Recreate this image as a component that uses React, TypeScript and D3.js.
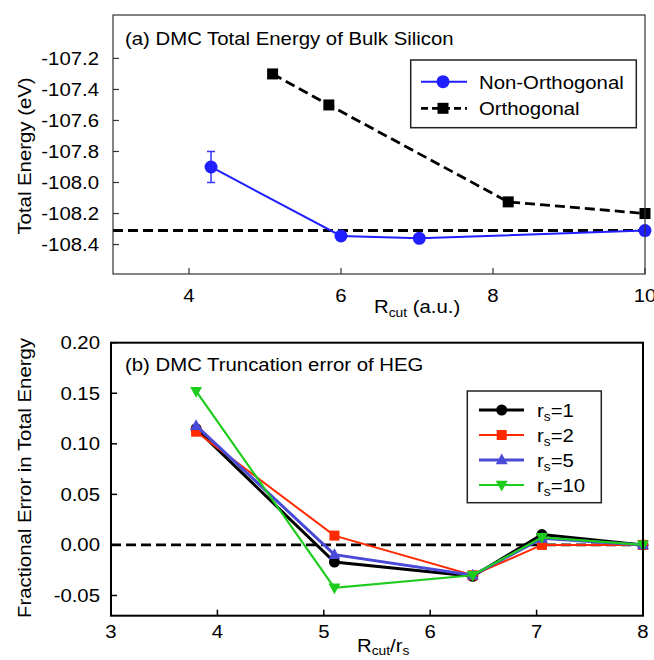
import React from "react";
import * as d3 from "d3";

// ---- Panel (a) data ----
const nonOrthX = [4.29, 6.0, 7.03, 10.0];
const nonOrthY = [-107.9, -108.345, -108.36, -108.31];
const nonOrthErr = [0.1, 0, 0, 0];
const orthX = [5.1, 5.84, 8.2, 10.0];
const orthY = [-107.3, -107.5, -108.125, -108.2];
const refEnergy = -108.31;
const aXTicks = [4, 6, 8, 10];
const aYTicks = [-107.2, -107.4, -107.6, -107.8, -108.0, -108.2, -108.4];

// ---- Panel (b) data ----
const bX = [3.8, 5.1, 6.4, 7.05, 8.0];
const rs1 = [0.115, -0.017, -0.031, 0.0102, 0.0];
const rs2 = [0.112, 0.0092, -0.03, 0.0, 0.0];
const rs5 = [0.118, -0.0096, -0.03, 0.0065, 0.0];
const rs10 = [0.152, -0.0425, -0.03, 0.0075, 0.0];
const bXTicks = [3, 4, 5, 6, 7, 8];
const bYTicks = [0.2, 0.15, 0.1, 0.05, 0.0, -0.05];

const FONT = "'Liberation Sans', Arial, Helvetica, sans-serif";
const FS = 18.5;
const SX = 1.1;

function T(props: { x: number; y: number; anchor?: string; rotate?: boolean; children: any }) {
  const { x, y, anchor, rotate, children } = props;
  const tr = rotate ? `translate(${x},${y}) rotate(-90) scale(${SX},1)` : `translate(${x},${y}) scale(${SX},1)`;
  return (
    <text transform={tr} textAnchor={anchor || "start"} fontSize={FS}>
      {children}
    </text>
  );
}

function marker(type: string, x: number, y: number, size: number, color: string, key: string) {
  if (type === "circle") return <circle key={key} cx={x} cy={y} r={size / 2} fill={color} />;
  if (type === "square")
    return <rect key={key} x={x - size / 2} y={y - size / 2} width={size} height={size} fill={color} />;
  if (type === "up") {
    const h = size * 0.9;
    return (
      <path key={key} d={`M${x},${y - h * 0.6}L${x + size / 2},${y + h * 0.4}L${x - size / 2},${y + h * 0.4}Z`} fill={color} />
    );
  }
  const h = size * 0.9;
  return (
    <path key={key} d={`M${x},${y + h * 0.6}L${x + size / 2},${y - h * 0.4}L${x - size / 2},${y - h * 0.4}Z`} fill={color} />
  );
}

export default function App() {
  const ax = d3.scaleLinear().domain([3, 10]).range([113, 645]);
  const ay = d3.scaleLinear().domain([-106.92, -108.59]).range([15, 274]);
  const bx = d3.scaleLinear().domain([3, 8]).range([111, 643]);
  const by = d3.scaleLinear().domain([0.2, -0.07]).range([342.7, 615.7]);

  const lineA = d3.line<[number, number]>().x((d) => ax(d[0])).y((d) => ay(d[1]));
  const lineB = d3.line<[number, number]>().x((d) => bx(d[0])).y((d) => by(d[1]));

  const nonOrthPts = nonOrthX.map((x, i) => [x, nonOrthY[i]] as [number, number]);
  const orthPts = orthX.map((x, i) => [x, orthY[i]] as [number, number]);

  const bSeries = [
    { name: "1", vals: rs1, color: "#000000", marker: "circle", size: 11, width: 3 },
    { name: "2", vals: rs2, color: "#ff2a00", marker: "square", size: 10, width: 2 },
    { name: "5", vals: rs5, color: "#4a4ad8", marker: "up", size: 12, width: 3 },
    { name: "10", vals: rs10, color: "#1ecc1e", marker: "down", size: 12, width: 2.2 },
  ];

  return (
    <svg width={654} height={660} style={{ display: "block", position: "absolute", left: 0, top: 0 }} fontFamily={FONT}>
      <rect x={0} y={0} width={654} height={660} fill="#fff" />
      {/* ===== Panel (a) ===== */}
      <g>
        {aXTicks.map((t) => (
          <g key={"ax" + t}>
            <line x1={ax(t)} x2={ax(t)} y1={274} y2={268} stroke="#333" strokeWidth={1.2} />
            <T x={ax(t)} y={302} anchor="middle">{t}</T>
          </g>
        ))}
        {aYTicks.map((t) => (
          <g key={"ay" + t}>
            <line x1={113} x2={119} y1={ay(t)} y2={ay(t)} stroke="#333" strokeWidth={1.2} />
            <T x={99} y={ay(t) + 6.5} anchor="end">{t.toFixed(1)}</T>
          </g>
        ))}
        <line x1={113} x2={645} y1={ay(refEnergy)} y2={ay(refEnergy)} stroke="#000" strokeWidth={3} strokeDasharray="10,5" />
        <path d={lineA(orthPts) || ""} fill="none" stroke="#000" strokeWidth={2.8} strokeDasharray="10,5" />
        <path d={lineA(nonOrthPts) || ""} fill="none" stroke="#1f1fff" strokeWidth={2} />
        {nonOrthPts.map((p, i) =>
          nonOrthErr[i] > 0 ? (
            <g key={"err" + i} stroke="#3535ff" strokeWidth={1.5}>
              <line x1={ax(p[0])} x2={ax(p[0])} y1={ay(p[1] + nonOrthErr[i])} y2={ay(p[1] - nonOrthErr[i])} />
              <line x1={ax(p[0]) - 4} x2={ax(p[0]) + 4} y1={ay(p[1] + nonOrthErr[i])} y2={ay(p[1] + nonOrthErr[i])} />
              <line x1={ax(p[0]) - 4} x2={ax(p[0]) + 4} y1={ay(p[1] - nonOrthErr[i])} y2={ay(p[1] - nonOrthErr[i])} />
            </g>
          ) : null
        )}
        {orthPts.map((p, i) => marker("square", ax(p[0]), ay(p[1]), 11, "#000", "os" + i))}
        {nonOrthPts.map((p, i) => marker("circle", ax(p[0]), ay(p[1]), 13, "#1f1fff", "nc" + i))}
        <rect x={113} y={15} width={532} height={259} fill="none" stroke="#333" strokeWidth={1.2} />
        <T x={125} y={45}>(a) DMC Total Energy of Bulk Silicon</T>
        {/* legend */}
        <rect x={410.7} y={60} width={225.6} height={67.7} fill="#fff" stroke="#222" strokeWidth={1.5} />
        <line x1={421} x2={467} y1={81.7} y2={81.7} stroke="#1f1fff" strokeWidth={2} />
        {marker("circle", 443, 81.7, 13, "#1f1fff", "lg1")}
        <T x={479} y={88.5}>Non-Orthogonal</T>
        <line x1={421} x2={467} y1={108.3} y2={108.3} stroke="#000" strokeWidth={2.8} strokeDasharray="7,4" />
        {marker("square", 443, 108.3, 11, "#000", "lg2")}
        <T x={479} y={115}>Orthogonal</T>
        {/* axis labels */}
        <T x={31} y={156} anchor="middle" rotate>Total Energy (eV)</T>
        <T x={374} y={313}>
          R<tspan fontSize={12.5} dy={4}>cut</tspan><tspan dy={-4}> (a.u.)</tspan>
        </T>
      </g>

      {/* ===== Panel (b) ===== */}
      <g>
        {bXTicks.map((t) => (
          <g key={"bx" + t}>
            <line x1={bx(t)} x2={bx(t)} y1={615.7} y2={609.7} stroke="#000" strokeWidth={1.5} />
            <T x={bx(t)} y={638} anchor="middle">{t}</T>
          </g>
        ))}
        {bYTicks.map((t) => (
          <g key={"by" + t}>
            <line x1={111} x2={117} y1={by(t)} y2={by(t)} stroke="#000" strokeWidth={1.5} />
            <T x={100} y={by(t) + 6.5} anchor="end">{t.toFixed(2)}</T>
          </g>
        ))}
        <line x1={111} x2={643} y1={by(0)} y2={by(0)} stroke="#000" strokeWidth={2.6} strokeDasharray="10,5" />
        {bSeries.map((s) => (
          <g key={"s" + s.name}>
            <path
              d={lineB(bX.map((x, i) => [x, s.vals[i]] as [number, number])) || ""}
              fill="none"
              stroke={s.color}
              strokeWidth={s.width}
            />
            {bX.map((x, i) => marker(s.marker, bx(x), by(s.vals[i]), s.size, s.color, s.name + "m" + i))}
          </g>
        ))}
        <rect x={111} y={342.7} width={532} height={273} fill="none" stroke="#000" strokeWidth={2} />
        <T x={125} y={370.7}>(b) DMC Truncation error of HEG</T>
        {/* legend */}
        <rect x={467.3} y={391} width={134} height={111.7} fill="#fff" stroke="#222" strokeWidth={1.5} />
        {bSeries.map((s, i) => {
          const y = 410 + i * 25;
          return (
            <g key={"lg" + s.name}>
              <line x1={479} x2={524} y1={y} y2={y} stroke={s.color} strokeWidth={s.width} />
              {marker(s.marker, 501.7, y, s.size, s.color, "lm" + s.name)}
              <T x={537} y={y + 7}>
                r<tspan fontSize={12.5} dy={4}>s</tspan><tspan dy={-4}>={s.name}</tspan>
              </T>
            </g>
          );
        })}
        <T x={31} y={478} anchor="middle" rotate>Fractional Error in Total Energy</T>
        <T x={357} y={652}>
          R<tspan fontSize={12.5} dy={3}>cut</tspan><tspan dy={-3}>/r</tspan><tspan fontSize={12.5} dy={3}>s</tspan>
        </T>
      </g>
    </svg>
  );
}
